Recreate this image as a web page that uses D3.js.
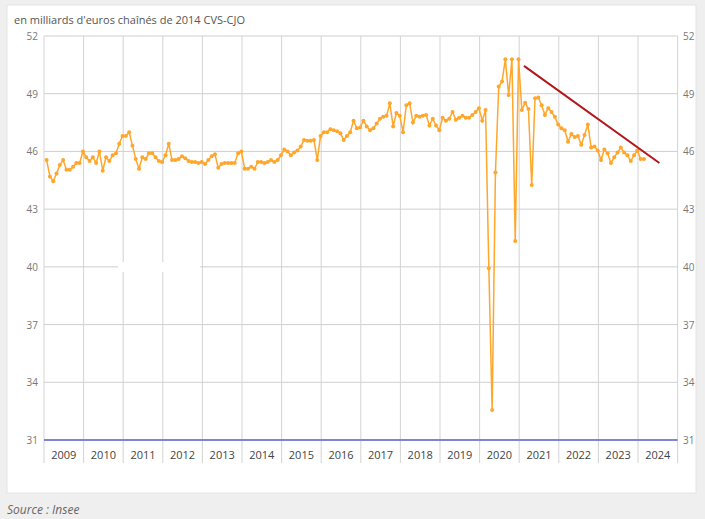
<!DOCTYPE html>
<html>
<head>
<meta charset="utf-8">
<script src="https://cdn.jsdelivr.net/npm/d3@7"></script>
<style>
  body { margin: 0; background: #efefef; font-family: "Open Sans", sans-serif; }
</style>
</head>
<body>
<svg id="chart" width="705" height="519"></svg>
<script>
// monthly household consumption of goods, Jan 2009 -> Feb 2024
var firstYear = 2009;
var consumption = [
  45.55, 44.7, 44.45, 44.85, 45.3, 45.55, 45.05, 45.05, 45.2, 45.4, 45.4, 46.0,   // 2009
  45.7, 45.5, 45.7, 45.4, 46.0, 45.0, 45.7, 45.5, 45.8, 45.9, 46.4, 46.8,         // 2010
  46.8, 47.0, 46.3, 45.6, 45.1, 45.7, 45.6, 45.9, 45.9, 45.7, 45.5, 45.45,        // 2011
  45.8, 46.4, 45.55, 45.55, 45.6, 45.75, 45.65, 45.5, 45.45, 45.45, 45.4, 45.45,  // 2012
  45.35, 45.55, 45.75, 45.85, 45.15, 45.35, 45.4, 45.4, 45.4, 45.4, 45.9, 46.0,   // 2013
  45.1, 45.1, 45.2, 45.1, 45.45, 45.45, 45.4, 45.45, 45.55, 45.45, 45.55, 45.8,   // 2014
  46.1, 46.0, 45.8, 45.95, 46.05, 46.25, 46.6, 46.55, 46.55, 46.6, 45.55, 46.8,   // 2015
  47.0, 47.0, 47.15, 47.1, 47.05, 46.95, 46.6, 46.8, 47.0, 47.6, 47.2, 47.25,     // 2016
  47.6, 47.3, 47.1, 47.2, 47.45, 47.7, 47.8, 47.85, 48.5, 47.3, 48.0, 47.85,      // 2017
  47.0, 48.4, 48.5, 47.5, 47.85, 47.8, 47.85, 47.9, 47.35, 47.7, 47.35, 47.1,     // 2018
  47.75, 47.6, 47.7, 48.05, 47.65, 47.75, 47.85, 47.75, 47.75, 47.9, 48.05, 48.25,// 2019
  47.6, 48.15, 39.93, 32.56, 44.9, 49.37, 49.63, 50.79, 48.93, 50.79, 41.34, 50.79, // 2020
  48.15, 48.53, 48.2, 44.26, 48.76, 48.8, 48.4, 47.9, 48.25, 48.05, 47.8, 47.4,   // 2021
  47.2, 47.1, 46.5, 46.9, 46.75, 46.8, 46.35, 46.85, 47.4, 46.2, 46.25, 46.05,    // 2022
  45.55, 46.1, 45.9, 45.4, 45.7, 45.95, 46.2, 45.95, 45.8, 45.5, 45.8, 46.05,     // 2023
  45.6, 45.6                                                                      // 2024
];
var yearLabels = d3.range(2009, 2025);
var yTicks = [31, 34, 37, 40, 43, 46, 49, 52];
// hand-drawn trend annotation (fractional year, value)
var trendYears = [2021.12, 2024.54];
var trendValues = [50.45, 45.4];

var title = "en milliards d'euros chaînés de 2014 CVS-CJO";
var source = "Source : Insee";

var svg = d3.select("#chart");

var x = d3.scaleLinear().domain([2009, 2025]).range([44, 677.6]);
var y = d3.scaleLinear().domain([31, 52]).range([440, 36]);

// page + white panel
svg.append("rect").attr("width", 705).attr("height", 519).attr("fill", "#efefef");
svg.append("rect")
  .attr("x", 7).attr("y", 5).attr("width", 689).attr("height", 488)
  .attr("fill", "#fff").attr("stroke", "#e4e4e4");

svg.append("text")
  .attr("x", 14).attr("y", 24)
  .attr("font-size", 11).attr("fill", "#555")
  .text(title);

// horizontal grid
svg.selectAll(".hgrid")
  .data(yTicks.filter(function(d) { return d > 31; }))
  .enter().append("line")
  .attr("class", "hgrid")
  .attr("x1", x(2009)).attr("x2", x(2025))
  .attr("y1", function(d) { return y(d); })
  .attr("y2", function(d) { return y(d); })
  .attr("stroke", "#cfcfcf").attr("stroke-width", 1);

// vertical year grid, running down into the label band
svg.selectAll(".vgrid")
  .data(d3.range(2009, 2026))
  .enter().append("line")
  .attr("class", "vgrid")
  .attr("x1", function(d) { return x(d); })
  .attr("x2", function(d) { return x(d); })
  .attr("y1", y(52)).attr("y2", 463)
  .attr("stroke", "#d3d3d3").attr("stroke-width", 1);

// white smudge over the 40 gridline, as in the source image
svg.append("rect")
  .attr("x", 118).attr("y", 262).attr("width", 82).attr("height", 10)
  .attr("fill", "#fff");

// base line
svg.append("line")
  .attr("x1", x(2009)).attr("x2", x(2025))
  .attr("y1", y(31)).attr("y2", y(31))
  .attr("stroke", "#7f83d9").attr("stroke-width", 2);

// y labels both sides
svg.selectAll(".ylabL")
  .data(yTicks).enter().append("text")
  .attr("x", 38).attr("y", function(d) { return y(d) + 4; })
  .attr("text-anchor", "end")
  .attr("font-size", 10).attr("fill", "#777")
  .text(function(d) { return d; });
svg.selectAll(".ylabR")
  .data(yTicks).enter().append("text")
  .attr("x", 683).attr("y", function(d) { return y(d) + 4; })
  .attr("font-size", 10).attr("fill", "#777")
  .text(function(d) { return d; });

// year labels, centred in each column
svg.selectAll(".xlab")
  .data(yearLabels).enter().append("text")
  .attr("x", function(d) { return x(d + 0.5); })
  .attr("y", 459)
  .attr("text-anchor", "middle")
  .attr("font-size", 11).attr("fill", "#444")
  .text(function(d) { return d; });

// series
var points = consumption.map(function(v, i) {
  return { t: firstYear + (i + 0.8) / 12, v: v };
});

var line = d3.line()
  .x(function(d) { return x(d.t); })
  .y(function(d) { return y(d.v); });

svg.append("path")
  .datum(points)
  .attr("d", line)
  .attr("fill", "none")
  .attr("stroke", "#ffa62b")
  .attr("stroke-width", 1.5);

svg.selectAll(".pt")
  .data(points).enter().append("circle")
  .attr("class", "pt")
  .attr("cx", function(d) { return x(d.t); })
  .attr("cy", function(d) { return y(d.v); })
  .attr("r", 2)
  .attr("fill", "#ffa62b");

// trend line
svg.append("line")
  .attr("x1", x(trendYears[0])).attr("y1", y(trendValues[0]))
  .attr("x2", x(trendYears[1])).attr("y2", y(trendValues[1]))
  .attr("stroke", "#b3171c").attr("stroke-width", 2);

svg.append("text")
  .attr("x", 7).attr("y", 514)
  .attr("font-size", 12).attr("font-style", "italic").attr("fill", "#666")
  .text(source);
</script>
</body>
</html>
